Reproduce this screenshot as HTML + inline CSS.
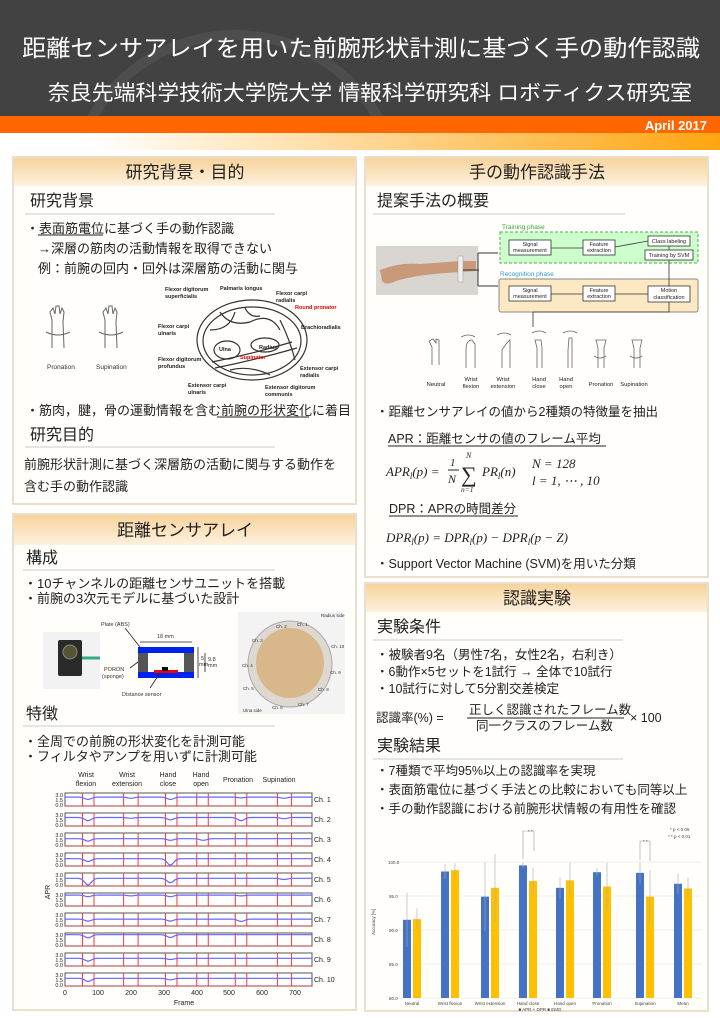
<!DOCTYPE html>
<html><head><meta charset="utf-8">
<style>
html,body{margin:0;padding:0;background:#fff;}
svg{display:block;}
text{font-family:"Liberation Sans","Noto Sans CJK JP",sans-serif;}
.m{font-family:"Liberation Serif","DejaVu Serif",serif;font-style:italic;}
</style></head><body>
<svg width="720" height="1018" viewBox="0 0 720 1018" xmlns="http://www.w3.org/2000/svg">
<defs>
<linearGradient id="hd" x1="0" y1="0" x2="0" y2="1"><stop offset="0" stop-color="#f7d39c"/><stop offset="1" stop-color="#fdf1de"/></linearGradient>
<linearGradient id="band" x1="0" y1="0" x2="1" y2="0"><stop offset="0" stop-color="#fff"/><stop offset="0.12" stop-color="#fff"/><stop offset="1" stop-color="#ffa510"/></linearGradient>
<clipPath id="hc"><rect x="0" y="0" width="720" height="116"/></clipPath>
</defs>
<!-- header -->
<rect x="0" y="0" width="720" height="116" fill="#424242"/>
<circle cx="235" cy="200" r="165" fill="none" stroke="#4d4d4d" stroke-width="10" clip-path="url(#hc)"/>
<text x="22" y="56" font-size="23" fill="#fff" textLength="678" lengthAdjust="spacingAndGlyphs">距離センサアレイを用いた前腕形状計測に基づく手の動作認識</text>
<text x="48" y="100" font-size="21" fill="#fff" textLength="644" lengthAdjust="spacingAndGlyphs">奈良先端科学技術大学院大学 情報科学研究科 ロボティクス研究室</text>
<rect x="0" y="116" width="720" height="17" fill="#ff6600"/>
<text x="707" y="130" font-size="13" font-weight="bold" fill="#fff" text-anchor="end">April 2017</text>
<rect x="0" y="133" width="720" height="17" fill="url(#band)"/>

<!-- panels -->
<g stroke="#eadfca" stroke-width="2" fill="#fffefb">
<rect x="13" y="157" width="343" height="347"/>
<rect x="13" y="514" width="343" height="496"/>
<rect x="365" y="157" width="343" height="420"/>
<rect x="365" y="583" width="343" height="428"/>
</g>
<g fill="url(#hd)">
<rect x="14" y="158" width="341" height="28"/>
<rect x="14" y="515" width="341" height="30"/>
<rect x="366" y="158" width="341" height="28"/>
<rect x="366" y="584" width="341" height="28"/>
</g>
<g font-size="17" fill="#222" text-anchor="middle">
<text x="185" y="178">研究背景・目的</text>
<text x="185" y="536">距離センサアレイ</text>
<text x="537" y="178">手の動作認識手法</text>
<text x="537" y="604">認識実験</text>
</g>
<g font-size="16" fill="#222">
<text x="30" y="206">研究背景</text>
<text x="30" y="440">研究目的</text>
<text x="26" y="563">構成</text>
<text x="26" y="719">特徴</text>
<text x="377" y="206">提案手法の概要</text>
<text x="377" y="632">実験条件</text>
<text x="377" y="751">実験結果</text>
</g>
<g stroke="#ccc" stroke-width="1">
<line x1="25" y1="214" x2="275" y2="214"/>
<line x1="25" y1="447" x2="275" y2="447"/>
<line x1="23" y1="570" x2="275" y2="570"/>
<line x1="23" y1="726" x2="275" y2="726"/>
<line x1="373" y1="214" x2="625" y2="214"/>
<line x1="373" y1="640" x2="623" y2="640"/>
<line x1="373" y1="759" x2="623" y2="759"/>
</g>
<!-- left panel 1 text -->
<g font-size="13" fill="#222">
<text x="26" y="233">・表面筋電位に基づく手の動作認識</text>
<line x1="38" y1="235" x2="103" y2="235" stroke="#222"/>
<text x="38" y="253">→深層の筋肉の活動情報を取得できない</text>
<text x="38" y="273">例：前腕の回内・回外は深層筋の活動に関与</text>
<text x="26" y="415">・筋肉，腱，骨の運動情報を含む前腕の形状変化に着目</text>
<line x1="217" y1="417" x2="309" y2="417" stroke="#222"/>
<text x="24" y="469">前腕形状計測に基づく深層筋の活動に関与する動作を</text>
<text x="24" y="491">含む手の動作認識</text>
</g>
<!-- hands pronation/supination -->
<g fill="none" stroke="#666" stroke-width="1">
<path d="M52 348 L52 320 L50 312 L53 308 L55 314 L56 306 L59 306 L60 314 L62 308 L64 312 L63 322 L64 348"/>
<path d="M46 332 q12 6 24 0"/>
<path d="M105 348 L105 320 L103 312 L106 308 L108 314 L109 306 L112 306 L113 314 L115 308 L117 312 L116 322 L117 348"/>
<path d="M99 332 q12 6 24 0"/>
</g>
<text x="47" y="369" font-size="6.5" fill="#333">Pronation</text>
<text x="96" y="369" font-size="6.5" fill="#333">Supination</text>
<!-- cross section -->
<g fill="none" stroke="#333" stroke-width="1.2">
<ellipse cx="252" cy="340" rx="55" ry="40"/>
<ellipse cx="252" cy="341" rx="49" ry="34"/>
<ellipse cx="227" cy="350" rx="13" ry="9"/>
<ellipse cx="265" cy="345" rx="14" ry="7"/>
<path d="M212 362 q40 -8 80 -20 M215 368 q40 -8 82 -20"/>
<path d="M220 312 q10 15 30 10 q20 -10 30 8 M245 308 q5 10 15 8 M210 330 q20 0 25 -18 M280 320 q10 20 15 40 M230 370 q20 -5 40 5"/>
</g>
<g font-size="5.5" font-weight="bold" fill="#222">
<text x="165" y="291">Flexor digitorum</text><text x="165" y="298">superficialis</text>
<text x="220" y="290">Palmaris longus</text>
<text x="276" y="295">Flexor carpi</text><text x="276" y="302">radialis</text>
<text x="295" y="309" fill="#e00">Round pronator</text>
<text x="301" y="329">Brachioradialis</text>
<text x="158" y="328">Flexor carpi</text><text x="158" y="335">ulnaris</text>
<text x="219" y="351">Ulna</text>
<text x="259" y="349">Radius</text>
<text x="240" y="359" fill="#e00">Supinator</text>
<text x="158" y="361">Flexor digitorum</text><text x="158" y="368">profundus</text>
<text x="300" y="370">Extensor carpi</text><text x="300" y="377">radialis</text>
<text x="188" y="387">Extensor carpi</text><text x="188" y="394">ulnaris</text>
<text x="265" y="389">Extensor digitorum</text><text x="265" y="396">communis</text>
</g>
<!-- left panel 2 -->
<g font-size="13" fill="#222">
<text x="24" y="588">・10チャンネルの距離センサユニットを搭載</text>
<text x="24" y="603">・前腕の3次元モデルに基づいた設計</text>
<text x="24" y="746">・全周での前腕の形状変化を計測可能</text>
<text x="24" y="761">・フィルタやアンプを用いずに計測可能</text>
</g>
<rect x="43" y="632" width="57" height="57" fill="#f2f2f2"/>
<rect x="58" y="640" width="24" height="36" fill="#2a2a2a" rx="2"/>
<circle cx="70" cy="652" r="7" fill="#553" stroke="#888"/>
<path d="M82 658 L100 658" stroke="#3a8" stroke-width="3"/>
<rect x="138" y="647" width="56" height="6" fill="#0022ee"/>
<rect x="138" y="672" width="56" height="6" fill="#0022ee"/>
<rect x="138" y="653" width="10" height="19" fill="#555"/>
<rect x="184" y="653" width="10" height="19" fill="#555"/>
<rect x="154" y="670" width="24" height="3" fill="#e00"/>
<rect x="162" y="667" width="6" height="4" fill="#000"/>
<g stroke="#222" stroke-width="0.8" fill="none"><line x1="140" y1="642" x2="192" y2="642"/><line x1="125" y1="628" x2="140" y2="647"/><line x1="198" y1="647" x2="198" y2="678"/><line x1="205" y1="653" x2="205" y2="672"/><line x1="130" y1="668" x2="138" y2="662"/><line x1="150" y1="688" x2="160" y2="673"/></g>
<g font-size="5.5" fill="#333">
<text x="101" y="626">Plate (ABS)</text><text x="157" y="638">18 mm</text>
<text x="201" y="660">5</text><text x="199" y="666">mm</text><text x="208" y="661">9.8</text><text x="208" y="667">mm</text>
<text x="104" y="671">PORON</text><text x="102" y="678">(sponge)</text><text x="122" y="696">Distance sensor</text>
</g>
<rect x="238" y="612" width="107" height="102" fill="#f3f3f3"/>
<ellipse cx="290" cy="664" rx="42" ry="43" fill="#ddd9d0" stroke="#aaa"/>
<ellipse cx="290" cy="663" rx="34" ry="35" fill="#d8b88a"/>
<g font-size="4.5" fill="#333"><text x="321" y="617">Radius side</text><text x="243" y="712">Ulna side</text>
<text x="276" y="628">Ch. 2</text><text x="297" y="626">Ch. 1</text><text x="252" y="642">Ch. 3</text><text x="331" y="648">Ch. 10</text><text x="242" y="667">Ch. 4</text><text x="330" y="674">Ch. 9</text><text x="243" y="690">Ch. 5</text><text x="318" y="691">Ch. 8</text><text x="272" y="709">Ch. 6</text><text x="298" y="706">Ch. 7</text></g>
<!-- APR plots -->
<g font-size="7" fill="#222" text-anchor="middle">
<text x="86" y="777">Wrist</text><text x="86" y="786">flexion</text>
<text x="127" y="777">Wrist</text><text x="127" y="786">extension</text>
<text x="168" y="777">Hand</text><text x="168" y="786">close</text>
<text x="201" y="777">Hand</text><text x="201" y="786">open</text>
<text x="238" y="782">Pronation</text><text x="279" y="782">Supination</text>
</g>
<g id="plots"></g>
<g font-size="7" fill="#222" text-anchor="middle">
<text x="65" y="995">0</text><text x="98" y="995">100</text><text x="131" y="995">200</text><text x="164" y="995">300</text><text x="197" y="995">400</text><text x="229" y="995">500</text><text x="262" y="995">600</text><text x="295" y="995">700</text>
<text x="184" y="1005">Frame</text>
<text x="50" y="892" transform="rotate(-90 50 892)">APR</text>
</g>
<g fill="#222" font-size="5.5" text-anchor="end">
<text x="63" y="797">3.0</text><text x="63" y="802">1.5</text><text x="63" y="807">0.0</text>
<text x="63" y="817">3.0</text><text x="63" y="822">1.5</text><text x="63" y="827">0.0</text>
<text x="63" y="837">3.0</text><text x="63" y="842">1.5</text><text x="63" y="847">0.0</text>
<text x="63" y="857">3.0</text><text x="63" y="862">1.5</text><text x="63" y="867">0.0</text>
<text x="63" y="877">3.0</text><text x="63" y="882">1.5</text><text x="63" y="887">0.0</text>
<text x="63" y="897">3.0</text><text x="63" y="902">1.5</text><text x="63" y="907">0.0</text>
<text x="63" y="917">3.0</text><text x="63" y="922">1.5</text><text x="63" y="927">0.0</text>
<text x="63" y="937">3.0</text><text x="63" y="942">1.5</text><text x="63" y="947">0.0</text>
<text x="63" y="957">3.0</text><text x="63" y="962">1.5</text><text x="63" y="967">0.0</text>
<text x="63" y="977">3.0</text><text x="63" y="982">1.5</text><text x="63" y="987">0.0</text>
</g>
<g fill="#222" font-size="7">
<text x="314" y="802">Ch. 1</text><text x="314" y="822">Ch. 2</text><text x="314" y="842">Ch. 3</text><text x="314" y="862">Ch. 4</text><text x="314" y="882">Ch. 5</text><text x="314" y="902">Ch. 6</text><text x="314" y="922">Ch. 7</text><text x="314" y="942">Ch. 8</text><text x="314" y="962">Ch. 9</text><text x="314" y="982">Ch. 10</text>
</g>
<!-- right panel 1 diagram -->
<rect x="376" y="246" width="102" height="49" fill="#d9d6d2"/>
<path d="M380 270 q20 -8 40 -6 l40 -3 l16 0 l0 10 l-30 2 q-30 2 -50 8 q-10 5 -14 0z" fill="#c99a7a"/>
<rect x="458" y="256" width="5" height="26" fill="#eee" stroke="#999" stroke-width="0.5"/>
<path d="M463 270 l16 0 M478 253 l0 33 M478 253 l20 0 M478 286 l20 0" stroke="#333" fill="none"/>
<rect x="500" y="232" width="198" height="31" fill="#ccffcc" stroke="#5a5" stroke-dasharray="3 2"/>
<rect x="499" y="279" width="199" height="33" fill="#fde8c4" stroke="#888" rx="2"/>
<text x="502" y="229" font-size="6.5" fill="#3a3">Training phase</text>
<text x="500" y="276" font-size="6.5" fill="#39d">Recognition phase</text>
<g fill="#fff" stroke="#333" stroke-width="0.8">
<rect x="509" y="240" width="42" height="15"/><rect x="583" y="240" width="32" height="15"/><rect x="648" y="236" width="42" height="10"/><rect x="645" y="250" width="48" height="10"/>
<rect x="509" y="286" width="42" height="15"/><rect x="583" y="286" width="32" height="15"/><rect x="648" y="286" width="42" height="16"/>
</g>
<g stroke="#333" stroke-width="0.8" fill="none"><path d="M551 248 h32 M615 247 l33 -6 M669 246 v4 M669 260 v26 M551 294 h32 M615 294 h33 M669 302 v10 h-136 v15"/></g>
<g font-size="5.5" fill="#222" text-anchor="middle">
<text x="530" y="246">Signal</text><text x="530" y="252">measurement</text>
<text x="599" y="246">Feature</text><text x="599" y="252">extraction</text>
<text x="669" y="243">Class labeling</text><text x="669" y="257">Training by SVM</text>
<text x="530" y="292">Signal</text><text x="530" y="298">measurement</text>
<text x="599" y="292">Feature</text><text x="599" y="298">extraction</text>
<text x="669" y="292">Motion</text><text x="669" y="299">classification</text>
</g>
<g fill="none" stroke="#666" stroke-width="0.8">
<path d="M432 365 v-18 l-3 -6 l4 -2 l3 4 l0 -4 l3 1 v25"/>
<path d="M466 368 v-18 q0 -10 6 -10 l3 4 v24"/><path d="M461 337 q8 -4 14 0"/>
<path d="M502 368 v-18 q5 -8 8 -10 v28"/><path d="M497 335 q8 -4 14 0"/>
<path d="M537 368 v-20 l-2 -8 l6 0 l1 8 v20"/><path d="M532 333 q8 -4 14 0"/>
<path d="M568 368 v-18 l1 -12 l3 0 l0 30"/><path d="M563 333 q8 -4 14 0"/>
<path d="M598 368 v-20 l-2 -8 h10 l-2 8 v20"/><path d="M594 356 q6 4 12 0"/>
<path d="M634 368 v-20 l-2 -8 h10 l-2 8 v20"/><path d="M630 356 q6 4 12 0"/>
</g>
<g font-size="5.8" fill="#222" text-anchor="middle">
<text x="436" y="386">Neutral</text><text x="471" y="381">Wrist</text><text x="471" y="388">flexion</text>
<text x="503" y="381">Wrist</text><text x="503" y="388">extension</text>
<text x="539" y="381">Hand</text><text x="539" y="388">close</text>
<text x="566" y="381">Hand</text><text x="566" y="388">open</text>
<text x="601" y="386">Pronation</text><text x="634" y="386">Supination</text>
</g>
<g font-size="12.5" fill="#222">
<text x="376" y="416">・距離センサアレイの値から2種類の特徴量を抽出</text>
<text x="388" y="443">APR：距離センサの値のフレーム平均</text>
<line x1="388" y1="446" x2="606" y2="446" stroke="#222"/>
<text x="389" y="513">DPR：APRの時間差分</text>
<line x1="389" y1="516" x2="518" y2="516" stroke="#222"/>
<text x="376" y="568">・Support Vector Machine (SVM)を用いた分類</text>
</g>
<g fill="#222">
<text x="386" y="476" font-size="13" class="m">APR<tspan font-size="9" dy="3">l</tspan><tspan dy="-3">(p) =</tspan></text>
<text x="450" y="466" font-size="11" class="m">1</text><line x1="448" y1="470" x2="459" y2="470" stroke="#222"/>
<text x="448" y="483" font-size="12" class="m">N</text>
<text x="461" y="482" font-size="22" class="m">∑</text>
<text x="466" y="458" font-size="8" class="m">N</text><text x="461" y="492" font-size="7.5" class="m">n=1</text>
<text x="482" y="476" font-size="13" class="m">PR<tspan font-size="9" dy="3">l</tspan><tspan dy="-3">(n)</tspan></text>
<text x="532" y="468" font-size="13" class="m">N = 128</text>
<text x="532" y="485" font-size="13" class="m">l = 1, ⋯ , 10</text>
<text x="386" y="542" font-size="13" class="m">DPR<tspan font-size="9" dy="3">l</tspan><tspan dy="-3">(p) = DPR</tspan><tspan font-size="9" dy="3">l</tspan><tspan dy="-3">(p) − DPR</tspan><tspan font-size="9" dy="3">l</tspan><tspan dy="-3">(p − Z)</tspan></text>
</g>
<!-- right panel 2 -->
<g font-size="12.5" fill="#222">
<text x="376" y="659">・被験者9名（男性7名，女性2名，右利き）</text>
<text x="376" y="676">・6動作×5セットを1試行 → 全体で10試行</text>
<text x="376" y="693">・10試行に対して5分割交差検定</text>
<text x="376" y="722">認識率(%) =</text>
<text x="469" y="714" font-size="12.5">正しく認識されたフレーム数</text>
<line x1="467" y1="718" x2="624" y2="718" stroke="#222"/>
<text x="476" y="730">同一クラスのフレーム数</text>
<text x="630" y="722">×  100</text>
<text x="376" y="775">・7種類で平均95%以上の認識率を実現</text>
<text x="376" y="794">・表面筋電位に基づく手法との比較においても同等以上</text>
<text x="376" y="813">・手の動作認識における前腕形状情報の有用性を確認</text>
</g>
<g id="chart"></g>
<g fill="#444" font-size="4.5">
<text x="388" y="864">100.0</text><text x="389" y="898">95.0</text><text x="389" y="932">90.0</text><text x="389" y="966">85.0</text><text x="389" y="1000">80.0</text>
<text x="375" y="935" transform="rotate(-90 375 935)">Accuracy [%]</text>
<g text-anchor="middle"><text x="412" y="1005">Neutral</text><text x="450" y="1005">Wrist flexion</text><text x="490" y="1005">Wrist extension</text><text x="528" y="1005">Hand close</text><text x="565" y="1005">Hand open</text><text x="602" y="1005">Pronation</text><text x="645" y="1005">Supination</text><text x="683" y="1005">Mean</text>
<text x="540" y="1011">■ APR + DPR  ■ EMG</text></g>
<text x="670" y="831">*   p &lt; 0.05</text><text x="668" y="838">* *  p &lt; 0.01</text>
<text x="528" y="833">* *</text><text x="643" y="843">* *</text>
</g>
</svg>
<script>
(function(){
var ns="http://www.w3.org/2000/svg";
function el(p,t,a){var e=document.createElementNS(ns,t);for(var k in a)e.setAttribute(k,a[k]);p.appendChild(e);return e;}
var P=document.getElementById("plots");
var ch=[[2.1,[[70,.6],[200,.3],[320,.6],[535,.2],[665,.3]]],[2.0,[[70,.8],[200,.2],[320,.6],[535,.8],[665,.3]]],[1.7,[[70,.6],[320,.4],[420,.4]]],[1.7,[[70,.7],[320,1.6]]],[1.8,[[70,1.7],[320,1.1],[665,.3]]],[2.6,[[70,.4],[200,.2],[320,.4],[535,.2]]],[1.6,[[70,.5],[320,.5],[535,.6]]],[2.7,[[70,.8],[320,.7]]],[1.8,[[70,.7],[320,.3]]],[1.8,[[70,.8],[320,.4]]]];
var reds=[53,88,178,222,305,340,400,435,517,552,645,688];
for(var i=0;i<10;i++){var ty=793+20*i;
el(P,"rect",{x:65,y:ty,width:247,height:13,fill:"#fff",stroke:"#555","stroke-width":1});
reds.forEach(function(f){var x=65+f/750*247;el(P,"line",{x1:x,y1:ty,x2:x,y2:ty+13,stroke:"#f33","stroke-width":1});});
var d="";for(var f=0;f<=750;f+=5){var v=ch[i][0];ch[i][1].forEach(function(q){v-=q[1]*Math.exp(-Math.pow((f-q[0])/14,2));});var x=65+f/750*247,y=ty+12.5-v/3*12;d+=(f?"L":"M")+x.toFixed(1)+" "+y.toFixed(1);}
el(P,"path",{d:d,fill:"none",stroke:"#66f","stroke-width":1.2});
el(P,"line",{x1:65,y1:ty+13,x2:312,y2:ty+13,stroke:"#c33","stroke-width":0.8});
}
var C=document.getElementById("chart");
function Y(v){return 998-(v-80)*6.8;}
for(var g=80;g<=100;g+=5){el(C,"line",{x1:397,y1:Y(g),x2:702,y2:Y(g),stroke:"#eee"});}
var cx=[412,450,490,528,565,602,645,683],b=[91.5,98.6,94.9,99.5,96.2,98.5,98.4,96.8],yv=[91.6,98.8,96.2,97.2,97.3,96.4,94.9,96.1],be=[4,1.1,5.1,0.4,1.6,.6,1.6,1.5],ye=[1.6,1,5,2,2.6,3.5,3.9,1.6];
for(var k=0;k<8;k++){var x=cx[k];
el(C,"rect",{x:x-9,y:Y(b[k]),width:8,height:998-Y(b[k]),fill:"#4472c4"});
el(C,"rect",{x:x+1,y:Y(yv[k]),width:8,height:998-Y(yv[k]),fill:"#ffc000"});
el(C,"line",{x1:x-5,y1:Y(b[k]-be[k]),x2:x-5,y2:Y(Math.min(b[k]+be[k],100.2)),stroke:"#aaa","stroke-width":0.6});
el(C,"line",{x1:x+5,y1:Y(yv[k]-ye[k]),x2:x+5,y2:Y(yv[k]+ye[k]),stroke:"#aaa","stroke-width":0.6});}
el(C,"path",{d:"M523 859 V831 H534 V851",fill:"none",stroke:"#999","stroke-width":0.6});
el(C,"path",{d:"M640 860 V841 H650 V861",fill:"none",stroke:"#999","stroke-width":0.6});
})();
</script>
</body></html>
